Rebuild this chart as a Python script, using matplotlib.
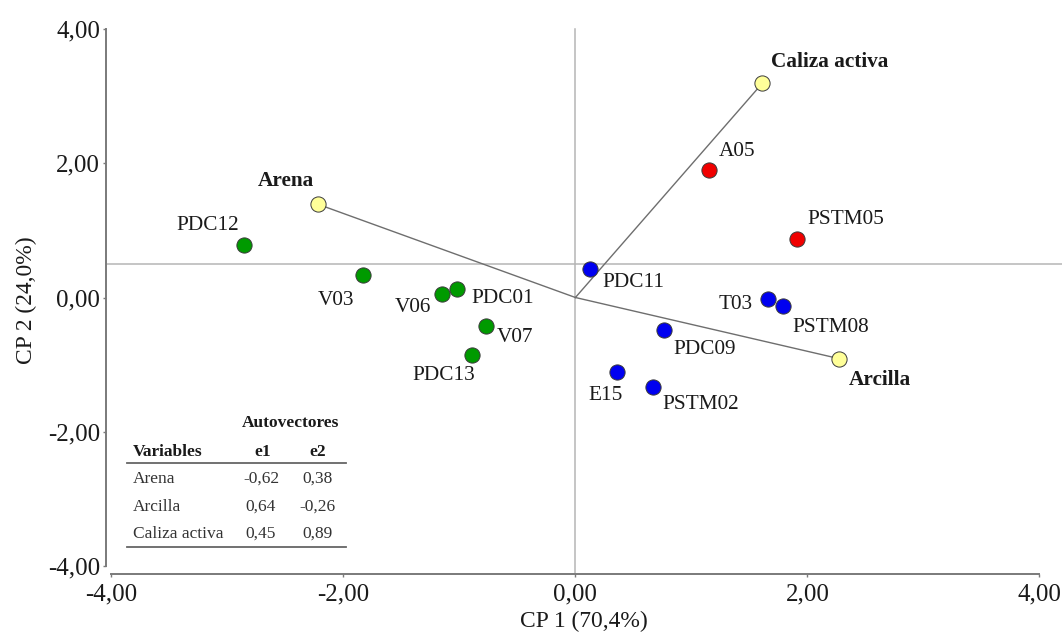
import matplotlib
matplotlib.use("Agg")
import matplotlib.pyplot as plt

plt.rcParams['font.family'] = ['Liberation Serif', 'DejaVu Serif']
plt.rcParams['axes.unicode_minus'] = False

# ---- data ----
obs_names = ['PDC12', 'V03', 'V06', 'PDC01', 'V07', 'PDC13',
             'PDC11', 'T03', 'PSTM08', 'PDC09', 'E15', 'PSTM02',
             'A05', 'PSTM05']
obs_x = [-2.86, -1.83, -1.15, -1.02, -0.77, -0.89,
         0.13, 1.66, 1.79, 0.76, 0.36, 0.67,
         1.15, 1.91]
obs_y = [0.78, 0.34, 0.05, 0.12, -0.42, -0.85,
         0.42, -0.02, -0.12, -0.48, -1.11, -1.33,
         1.90, 0.87]
obs_group = ['g', 'g', 'g', 'g', 'g', 'g',
             'b', 'b', 'b', 'b', 'b', 'b',
             'r', 'r']

var_names = ['Arena', 'Arcilla', 'Caliza activa']
var_x = [-2.22, 2.27, 1.61]
var_y = [1.39, -0.91, 3.19]

ref_h = 0.5
ref_v = 0.0

ticks = [-4, -2, 0, 2, 4]
tick_labels = ['-4,00', '-2,00', '0,00', '2,00', '4,00']

xlabel = 'CP 1 (70,4%)'
ylabel = 'CP 2 (24,0%)'

table_title = 'Autovectores'
table_header = ['Variables', 'e1', 'e2']
table_vars = ['Arena', 'Arcilla', 'Caliza activa']
table_e1 = ['-0,62', '0,64', '0,45']
table_e2 = ['0,38', '-0,26', '0,89']

# ---- styles ----
group_colors = {'g': '#009a00', 'b': '#0000f0', 'r': '#f00000'}
var_color = '#ffff99'
txt_color = '#1a1a1a'

# label placement (pixel offsets: ha, dx, dy where dy is downward in image)
obs_label_pos = {
    'PDC12': ('right', -5, -20), 'V03': ('right', -9, 26), 'V06': ('right', -11, 13),
    'PDC01': ('left', 14, 9), 'V07': ('left', 11, 12), 'PDC13': ('center', -28, 21),
    'PDC11': ('left', 12, 13), 'T03': ('right', -15, 6), 'PSTM08': ('left', 9, 22),
    'PDC09': ('left', 10, 20), 'E15': ('center', -12, 24), 'PSTM02': ('left', 9, 18),
    'A05': ('left', 10, -19), 'PSTM05': ('left', 10, -20),
}
var_label_pos = {
    'Arena': ('right', -4, -23), 'Arcilla': ('left', 10, 21), 'Caliza activa': ('left', 9, -21),
}

fig = plt.figure(figsize=(10.62, 6.34), dpi=100)
ax = fig.add_axes([0.09944, 0.0947, 0.9006, 0.8647])
ax.set_xlim(-4.05, 4.195)
ax.set_ylim(-4.12, 4.05)

# reference lines
ax.axhline(ref_h, color='#b5b5b5', lw=1.1, zorder=1)
ax.plot([ref_v, ref_v], [-4.12, 4.0], color='#b5b5b5', lw=1.1, zorder=1)

# vectors
for vx, vy in zip(var_x, var_y):
    ax.plot([0, vx], [0, vy], color='#6e6e6e', lw=1.0, zorder=2)

# observations
for name, x, y, g in zip(obs_names, obs_x, obs_y, obs_group):
    ax.scatter(x, y, s=120, color=group_colors[g], edgecolor='#3a3a3a',
               linewidth=0.7, zorder=4)
    ha, dx, dy = obs_label_pos[name]
    ax.annotate(name, (x, y), xytext=(dx, -dy), textcoords='offset pixels',
                ha=ha, va='center', fontsize=15.3, color=txt_color, zorder=5)

for name, x, y in zip(var_names, var_x, var_y):
    ax.scatter(x, y, s=120, color=var_color, edgecolor='#3a3a3a',
               linewidth=0.7, zorder=4)
    ha, dx, dy = var_label_pos[name]
    ax.annotate(name, (x, y), xytext=(dx, -dy), textcoords='offset pixels',
                ha=ha, va='center', fontsize=15.3, fontweight='bold',
                color=txt_color, zorder=5)

# axes styling
for s in ['top', 'right']:
    ax.spines[s].set_visible(False)
for s in ['left', 'bottom']:
    ax.spines[s].set_color('#7a7a7a')
    ax.spines[s].set_linewidth(1.4)
    ax.spines[s].set_bounds(-4, 4)
ax.set_xticks(ticks)
ax.set_xticklabels(tick_labels)
ax.set_yticks(ticks)
ax.set_yticklabels(tick_labels)
ax.tick_params(axis='both', direction='out', length=2.5, width=1.0,
               color='#7a7a7a', labelsize=18, labelcolor=txt_color, pad=1.5)
ax.tick_params(axis='x', pad=4.5)
ax.set_xlabel(xlabel, fontsize=16.9, color=txt_color, labelpad=3.5)
ax.set_ylabel(ylabel, fontsize=16.9, color=txt_color, labelpad=8)

# eigenvector table (in data coordinates of the plot)
tfs = 12.5
tcol = '#333333'
ax.text(-2.456, -1.87, table_title, ha='center', va='center', fontsize=tfs,
        fontweight='bold', color=txt_color)
ax.text(-3.814, -2.30, table_header[0], ha='left', va='center', fontsize=tfs,
        fontweight='bold', color=txt_color)
ax.text(-2.70, -2.30, table_header[1], ha='center', va='center', fontsize=tfs,
        fontweight='bold', color=txt_color)
ax.text(-2.225, -2.30, table_header[2], ha='center', va='center', fontsize=tfs,
        fontweight='bold', color=txt_color)
ax.plot([-3.866, -1.978], [-2.466, -2.466], color='#666666', lw=1.3)
row_y = [-2.705, -3.122, -3.525]
for vname, a, b, ry in zip(table_vars, table_e1, table_e2, row_y):
    ax.text(-3.814, ry, vname, ha='left', va='center', fontsize=tfs, color=tcol)
    ax.text(-2.71, ry, a, ha='center', va='center', fontsize=tfs, color=tcol)
    ax.text(-2.225, ry, b, ha='center', va='center', fontsize=tfs, color=tcol)
ax.plot([-3.866, -1.978], [-3.72, -3.72], color='#666666', lw=1.3)

fig.savefig('out.png', dpi=100)
